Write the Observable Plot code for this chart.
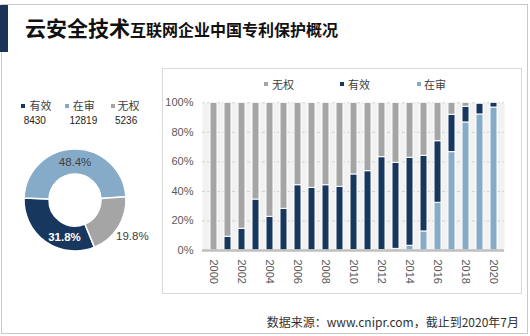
<!DOCTYPE html>
<html><head><meta charset="utf-8">
<script src="https://cdn.jsdelivr.net/npm/d3@7"></script>
<script src="https://cdn.jsdelivr.net/npm/@observablehq/plot@0.6"></script>
<style>
html,body{margin:0;padding:0;background:#fff;}
#root{position:relative;width:530px;height:336px;overflow:hidden;font-family:"Liberation Sans","Noto Sans CJK SC",sans-serif;color:#404040;}
.abs{position:absolute;}
#frame{left:1px;top:4px;width:527px;height:330px;border:1.5px solid #c8c8c8;box-sizing:border-box;}
#accent{left:0;top:5px;width:8px;height:47px;background:#1b3358;}
#title{left:25px;top:14px;white-space:nowrap;font-family:"Noto Sans CJK SC",sans-serif;font-weight:bold;color:#111;line-height:26px;}
#title .big{font-size:21px;}
#title .small{font-size:16px;}
#box{left:161.5px;top:67.5px;width:360px;height:226px;border:1.5px solid #d9d9d9;box-sizing:border-box;}
.lg{font-family:"Noto Sans CJK SC",sans-serif;font-size:11px;line-height:12px;white-space:nowrap;color:#404040;}
.mk{position:absolute;width:4px;height:4px;}
.val{font-size:10px;line-height:12px;color:#222;white-space:nowrap;}
#caption{right:11px;top:315px;font-family:"Noto Sans CJK SC",sans-serif;font-size:12px;line-height:14px;color:#333;white-space:nowrap;}
</style></head><body>
<div id="root">
  <div id="frame" class="abs"></div>
  <div id="accent" class="abs"></div>
  <div id="title" class="abs"><span class="big" id="t1"></span><span class="small" id="t2"></span></div>
  <div id="box" class="abs"></div>
  <div id="leftLegend"></div>
  <div id="donut" class="abs" style="left:0;top:140px;"></div>
  <div id="barLegend"></div>
  <div id="bars" class="abs" style="left:162px;top:92px;"></div>
  <div id="caption" class="abs"></div>
</div>
<script>
// ---------- data ----------
const titleMain = "云安全技术";
const titleSub = "互联网企业中国专利保护概况";
const caption = "数据来源：www.cnipr.com，截止到2020年7月";

const donutLabels = ["有效", "在审", "无权"];
const donutCounts = [8430, 12819, 5236];

const years = [2000,2001,2002,2003,2004,2005,2006,2007,2008,2009,2010,2011,2012,2013,2014,2015,2016,2017,2018,2019,2020];
// share of patents per year (%)
const pendingShare = [0,0,0,0,0,0,0,0,0,0,0.3,0,0.3,1.1,3.2,12.9,32.3,66.6,86.7,92.1,96.8];
const validShare   = [0,9.3,14.7,34.5,22.8,28.2,44.2,42.4,44.2,43.1,51.2,53.7,62.9,58.3,59.6,51.2,41.7,25.3,10.6,7.4,3.2];
const invalidShare = [100,90.7,85.3,65.5,77.2,71.8,55.8,57.6,55.8,56.9,48.5,46.3,36.8,40.6,37.2,35.9,26.0,8.1,2.7,0.5,0];

const barLegendOrder = ["无权", "有效", "在审"];
const yTicks = [0, 20, 40, 60, 80, 100];

const colors = {"有效": "#17375e", "在审": "#85abc8", "无权": "#a5a5a5"};

// ---------- text ----------
document.getElementById("t1").textContent = titleMain;
document.getElementById("t2").textContent = titleSub;
document.getElementById("caption").textContent = caption;

function addLegendItem(container, label, mkLeft, txtLeft, centerY) {
  const mk = document.createElement("div");
  mk.className = "mk";
  mk.style.left = mkLeft + "px"; mk.style.top = (centerY - 2) + "px";
  mk.style.background = colors[label];
  container.appendChild(mk);
  const t = document.createElement("div");
  t.className = "abs lg";
  t.style.left = txtLeft + "px"; t.style.top = (centerY - 6.5) + "px";
  t.textContent = label;
  container.appendChild(t);
}
// left legend + values
const ll = document.getElementById("leftLegend");
const llMk = [21, 65.4, 110.7], llTx = [29.5, 72.8, 117.5], llVal = [23.7, 69.4, 115];
donutLabels.forEach((lab, i) => {
  addLegendItem(ll, lab, llMk[i], llTx[i], 105.5);
  const v = document.createElement("div");
  v.className = "abs val";
  v.style.left = llVal[i] + "px"; v.style.top = "115px";
  v.textContent = donutCounts[i];
  ll.appendChild(v);
});
// bar legend
const bl = document.getElementById("barLegend");
const blMk = [264, 340.3, 416.5], blTx = [272, 348, 424];
barLegendOrder.forEach((lab, i) => addLegendItem(bl, lab, blMk[i], blTx[i], 84.3));

// ---------- donut ----------
const total = d3.sum(donutCounts);
const pieData = donutLabels.map((l, i) => ({label: l, value: donutCounts[i], pct: donutCounts[i] / total}));
const startA = 157.6 * Math.PI / 180;
const arcs = d3.pie().sort(null).value(d => d.value).startAngle(startA).endAngle(startA + 2 * Math.PI)(pieData);
const rOuter = 51, rInner = 26;
const arcGen = d3.arc().innerRadius(rInner).outerRadius(rOuter);
const labelArcIn = d3.arc().innerRadius(38.5).outerRadius(38.5);
const labelArcOut = d3.arc().innerRadius(67).outerRadius(67);
const labelRows = arcs.map(a => {
  const outside = a.data.label === "无权";
  const [x, y] = (outside ? labelArcOut : labelArcIn).centroid(a);
  return {x, y, text: (a.data.pct * 100).toFixed(1) + "%", label: a.data.label};
});
function donutMark(...args) {
  const scales = args.find(a => a && typeof a.x === "function" && typeof a.y === "function");
  const cx = scales ? scales.x(0) : 75, cy = scales ? scales.y(0) : 60;
  const g = d3.create("svg:g").attr("transform", `translate(${cx},${cy})`);
  g.selectAll("path").data(arcs).join("path")
    .attr("d", arcGen)
    .attr("fill", d => colors[d.data.label])
    .attr("stroke", "white").attr("stroke-width", 1.5);
  return g.node();
}
const inRing = labelRows.filter(d => d.label !== "有效");
const validLabel = labelRows.filter(d => d.label === "有效");
const donut = Plot.plot({
  width: 150, height: 120, margin: 0,
  x: {domain: [-75, 75], range: [0, 150], axis: null},
  y: {domain: [-60, 60], range: [0, 120], axis: null},
  style: {fontFamily: "Liberation Sans, sans-serif", fontSize: "11.5px", background: "transparent", overflow: "visible"},
  marks: [
    donutMark,
    Plot.text(inRing, {x: "x", y: "y", text: "text", fill: "#404040"}),
    Plot.text(validLabel, {x: "x", y: "y", text: "text", fill: "white", fontWeight: "bold", dx: 11, dy: 5})
  ]
});
document.getElementById("donut").appendChild(donut);

// ---------- stacked bars ----------
const rows = [];
years.forEach((yr, i) => {
  rows.push({year: yr, status: "在审", value: pendingShare[i]});
  rows.push({year: yr, status: "有效", value: validShare[i]});
  rows.push({year: yr, status: "无权", value: invalidShare[i]});
});
const barRows = rows.filter(d => d.value > 0);

const bars = Plot.plot({
  width: 356, height: 200,
  marginLeft: 40, marginRight: 14, marginTop: 10.3, marginBottom: 42,
  style: {fontFamily: "Liberation Sans, sans-serif", fontSize: "11px", color: "#595959", background: "transparent", overflow: "visible"},
  x: {domain: years, paddingInner: 0.5, paddingOuter: 0.22, tickSize: 0, tickPadding: 9, tickRotate: 90,
      tickFormat: d => d % 2 === 0 ? String(d) : "", label: null},
  y: {domain: [0, 100], ticks: yTicks, tickFormat: d => d + "%", tickSize: 0, tickPadding: 9, label: null},
  color: {domain: barLegendOrder, range: barLegendOrder.map(k => colors[k])},
  marks: [
    Plot.frame({fill: "#f2f2f2", stroke: null}),
    Plot.ruleY(yTicks.filter(t => t > 0), {stroke: "#d4d4d4", strokeDasharray: "3,2", strokeWidth: 1}),
    Plot.barY(barRows, Plot.stackY({
      x: "year", y: "value", fill: "status",
      order: ["在审", "有效", "无权"],
      stroke: "white", strokeWidth: 1
    })),
    Plot.ruleY([0], {stroke: "#bfbfbf", strokeWidth: 2.5})
  ]
});
document.getElementById("bars").appendChild(bars);
</script>
</body></html>
